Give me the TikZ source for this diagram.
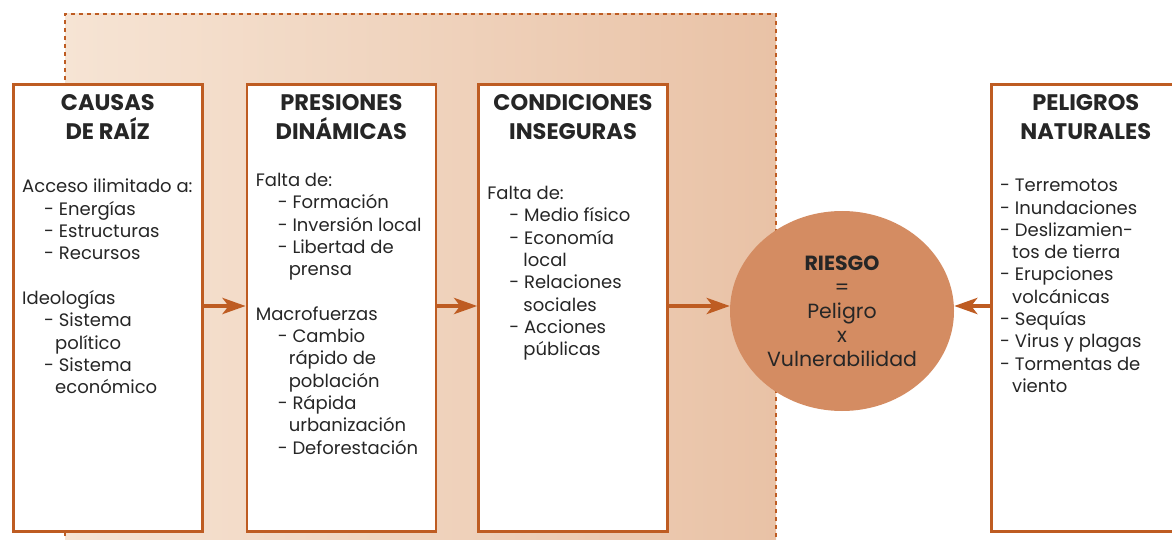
\documentclass[tikz,border=0pt]{standalone}
\usepackage{fontspec}
\setmainfont{Poppins}
\usepackage{tikz}
\usetikzlibrary{arrows.meta, shapes.geometric}
\usetikzlibrary{positioning}
\definecolor{rust}{RGB}{190,92,34}
\definecolor{clay}{RGB}{212,140,98}
\definecolor{ink}{RGB}{38,38,38}
\definecolor{sand_light}{RGB}{246,228,212}
\definecolor{sand_dark}{RGB}{233,194,166}
\tikzstyle{stage_box} = [
    rectangle, 
    draw=rust, 
    fill=white, 
    line width=2.6pt, 
    anchor=north west, 
    inner sep=0pt, 
    minimum width=189pt, 
    minimum height=447pt
]
\tikzstyle{stage_title} = [
    font=\fontsize{22.5}{29}\selectfont\bfseries, 
    text=ink, 
    align=center, 
    inner sep=0pt
]
\tikzstyle{stage_list} = [
    font=\fontsize{18}{22.3}\selectfont, 
    text=ink, 
    align=left, 
    inner sep=0pt % lines start right at the anchor
]
\tikzstyle{risk_node} = [
    ellipse, 
    fill=clay, 
    text=ink, 
    font=\fontsize{20.5}{24}\selectfont, 
    align=center, 
    inner sep=0pt, 
    minimum width=224pt, 
    minimum height=200pt
]
\tikzstyle{link} = [
    draw=rust, 
    line width=4.5pt, 
    -{Stealth[length=23pt, width=16pt, inset=6pt]}
]
\newcommand{\listitem}[1]{\hspace*{22pt}- #1}
\newcommand{\listmore}[1]{\hspace*{33pt}#1}

\begin{document}
\begin{tikzpicture}[x=1pt, y=-1pt]
\useasboundingbox (0,0) rectangle (1172,540);
\clip (0,0) rectangle (1172,540);

% shaded frame behind the three stages
\shade[left color=sand_light, right color=sand_dark] (65,14) rectangle (776,560);
\draw[rust, line width=1.5pt, dash pattern=on 4pt off 4pt] (65,560) -- (65,14) -- (776,14) -- (776,560);

\node [stage_box] (causas) at (12,83) {};
\node [stage_box, right=42pt of causas] (presiones) {};
\node [stage_box, right=40pt of presiones] (condiciones) {};
\node [stage_box] (peligros) at (990,83) {};

\node [stage_title, below=11pt of causas.north] {CAUSAS\\DE RAÍZ};
\node [stage_title, below=11pt of presiones.north] {PRESIONES\\DINÁMICAS};
\node [stage_title, below=11pt of condiciones.north] {CONDICIONES\\INSEGURAS};
\node [stage_title, below=11pt of peligros.north] {PELIGROS\\NATURALES};

\node [stage_list, below right=96pt and 10pt of causas.north west] (causas_list) {
    Acceso ilimitado a:\\
    \listitem{Energías}\\
    \listitem{Estructuras}\\
    \listitem{Recursos}\\[22.3pt]
    Ideologías\\
    \listitem{Sistema}\\
    \listmore{político}\\
    \listitem{Sistema}\\
    \listmore{económico}
};
\node [stage_list, below right=90pt and 10pt of presiones.north west] (presiones_list) {
    Falta de:\\
    \listitem{Formación}\\
    \listitem{Inversión local}\\
    \listitem{Libertad de}\\
    \listmore{prensa}\\[22.3pt]
    Macrofuerzas\\
    \listitem{Cambio}\\
    \listmore{rápido de}\\
    \listmore{población}\\
    \listitem{Rápida}\\
    \listmore{urbanización}\\
    \listitem{Deforestación}
};
\node [stage_list, below right=103pt and 10pt of condiciones.north west] (condiciones_list) {
    Falta de:\\
    \listitem{Medio físico}\\
    \listitem{Economía}\\
    \hspace*{36pt}local\\
    \listitem{Relaciones}\\
    \hspace*{36pt}sociales\\
    \listitem{Acciones}\\
    \hspace*{36pt}públicas
};
\node [stage_list, below right=96pt and 10pt of peligros.north west] (peligros_list) {
    - Terremotos\\
    - Inundaciones\\
    - Deslizamien-\\
    \hspace*{12pt}tos de tierra\\
    - Erupciones\\
    \hspace*{12pt}volcánicas\\
    - Sequías\\
    - Virus y plagas\\
    - Tormentas de\\
    \hspace*{12pt}viento
};

\node [risk_node] (riesgo) at (842,311) {\textbf{RIESGO}\\=\\Peligro\\x\\Vulnerabilidad};

\coordinate (flow) at (0,306);
\draw [link] (causas.east |- flow) -- (presiones.west |- flow);
\draw [link] (presiones.east |- flow) -- (condiciones.west |- flow);
\draw [link] (condiciones.east |- flow) -- (riesgo.west |- flow);
\draw [link] (peligros.west |- flow) -- (riesgo.east |- flow);
\end{tikzpicture}
\end{document}
